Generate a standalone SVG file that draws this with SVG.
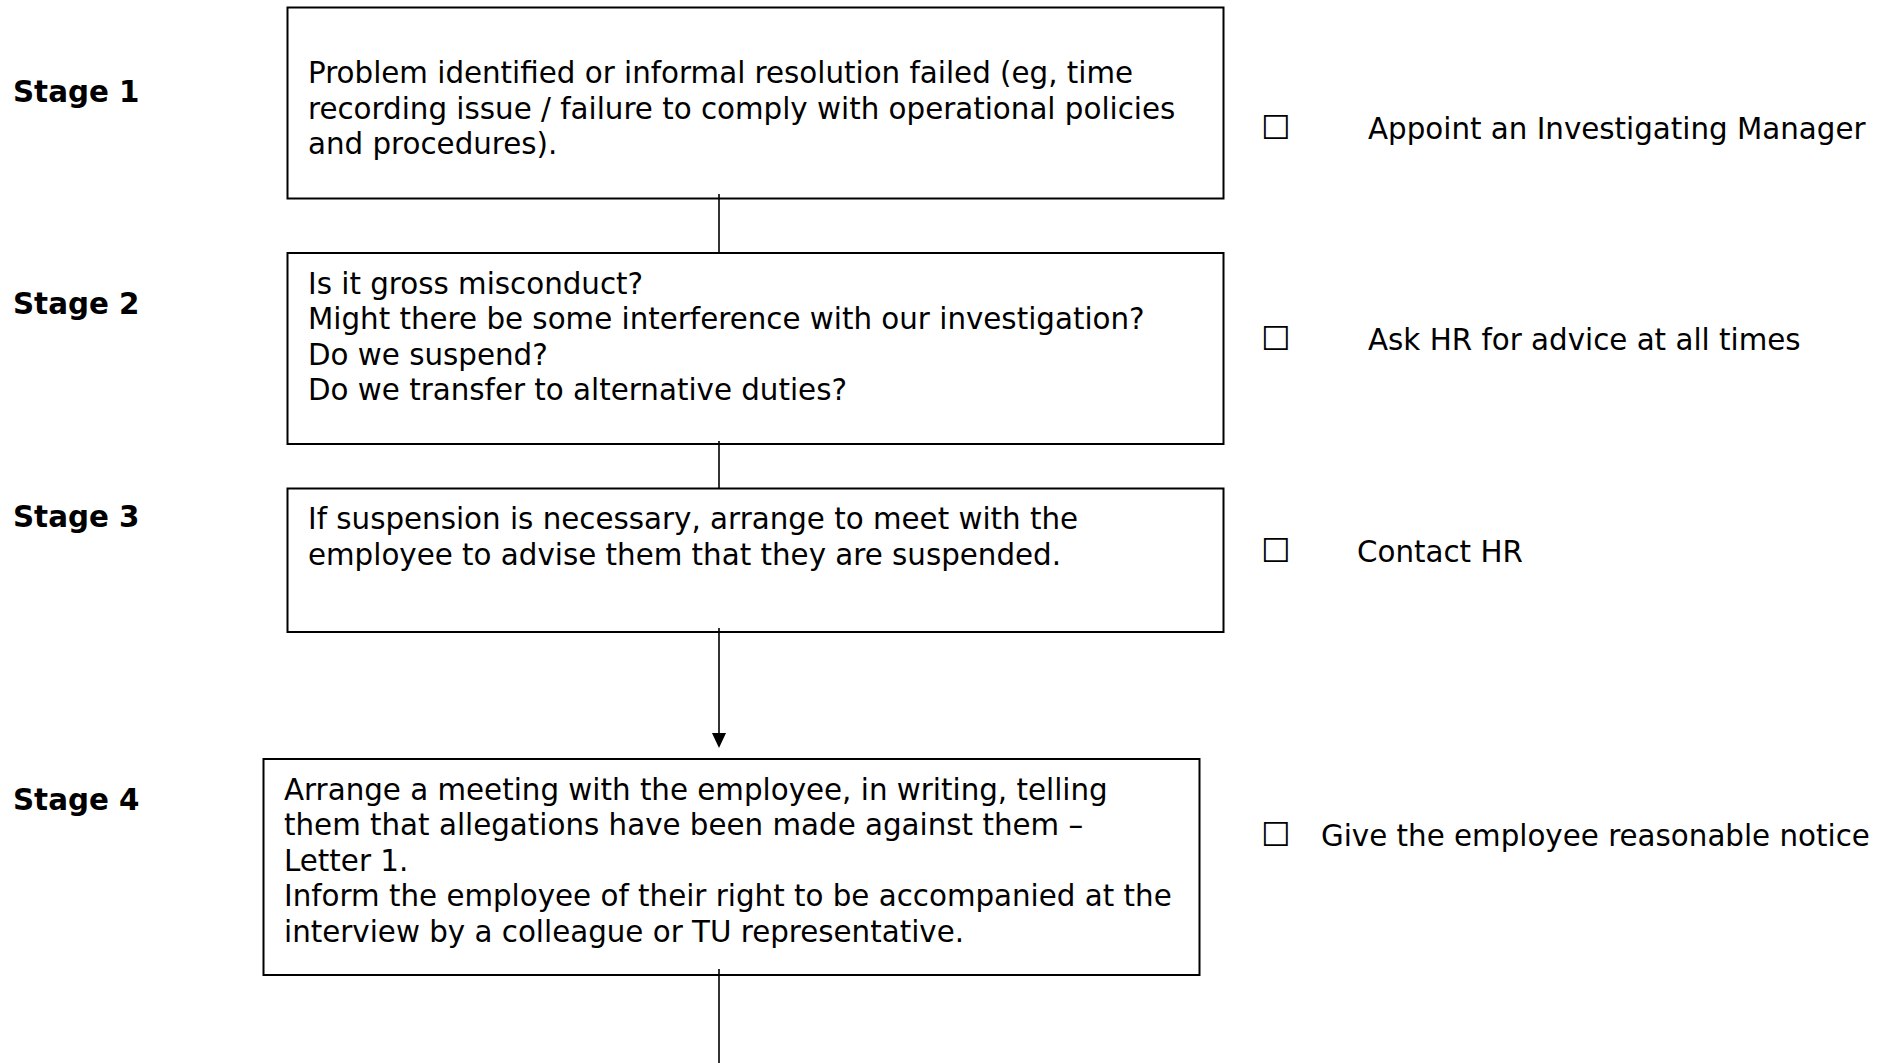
<svg xmlns="http://www.w3.org/2000/svg" width="1886" height="1063" viewBox="0 0 1886 1063">
<defs>
<style>
.box{fill:#fff;stroke:#000;stroke-width:2}
.t{font-family:"DejaVu Sans","Liberation Sans",sans-serif;font-size:29.33px;fill:#000}
.st{font-family:"DejaVu Sans","Liberation Sans",sans-serif;font-size:29.33px;font-weight:bold;fill:#000}
.cb{font-family:"DejaVu Sans",sans-serif;font-size:33px;fill:#000}
.con{stroke:#000;stroke-width:1.6;fill:none}
</style>
</defs>
<rect width="1886" height="1063" fill="#fff"/>
<g id="labels">
<text class="st" x="13" y="101.5">Stage 1</text>
<text class="st" x="13" y="313.5">Stage 2</text>
<text class="st" x="13" y="526.5">Stage 3</text>
<text class="st" x="13" y="809.5">Stage 4</text>
</g>
<g id="node1">
<rect class="box" x="287.5" y="7.5" width="936" height="191"/>
<text class="t" x="308" y="82.5">Problem identified or informal resolution failed (eg, time</text>
<text class="t" x="308" y="118.5">recording issue / failure to comply with operational policies</text>
<text class="t" x="308" y="153.5">and procedures).</text>
</g>
<g id="node2">
<rect class="box" x="287.5" y="253" width="936" height="191"/>
<text class="t" x="308" y="293.5">Is it gross misconduct?</text>
<text class="t" x="308" y="328.5">Might there be some interference with our investigation?</text>
<text class="t" x="308" y="364.5">Do we suspend?</text>
<text class="t" x="308" y="399.5">Do we transfer to alternative duties?</text>
</g>
<g id="node3">
<rect class="box" x="287.5" y="488.5" width="936" height="143.5"/>
<text class="t" x="308" y="528.5">If suspension is necessary, arrange to meet with the</text>
<text class="t" x="308" y="564.5">employee to advise them that they are suspended.</text>
</g>
<g id="node4">
<rect class="box" x="263.5" y="759" width="936" height="216"/>
<text class="t" x="284" y="799.5">Arrange a meeting with the employee, in writing, telling</text>
<text class="t" x="284" y="834.5">them that allegations have been made against them –</text>
<text class="t" x="284" y="870.5">Letter 1.</text>
<text class="t" x="284" y="905.5">Inform the employee of their right to be accompanied at the</text>
<text class="t" x="284" y="941.5">interview by a colleague or TU representative.</text>
</g>
<g id="checklist">
<text class="cb" x="1261" y="139">☐</text>
<text class="t" x="1368" y="138.5">Appoint an Investigating Manager</text>
<text class="cb" x="1261" y="350">☐</text>
<text class="t" x="1368" y="349.5">Ask HR for advice at all times</text>
<text class="cb" x="1261" y="562">☐</text>
<text class="t" x="1357" y="561.5">Contact HR</text>
<text class="cb" x="1261" y="846">☐</text>
<text class="t" x="1321" y="845.5">Give the employee reasonable notice</text>
</g>
<g id="connectors">
<line class="con" x1="719" y1="194" x2="719" y2="253"/>
<line class="con" x1="719" y1="441" x2="719" y2="488"/>
<line class="con" x1="719" y1="628" x2="719" y2="736"/>
<polygon points="712,733 726,733 719,748" fill="#000"/>
<line class="con" x1="719" y1="969" x2="719" y2="1063"/>
</g>
</svg>
